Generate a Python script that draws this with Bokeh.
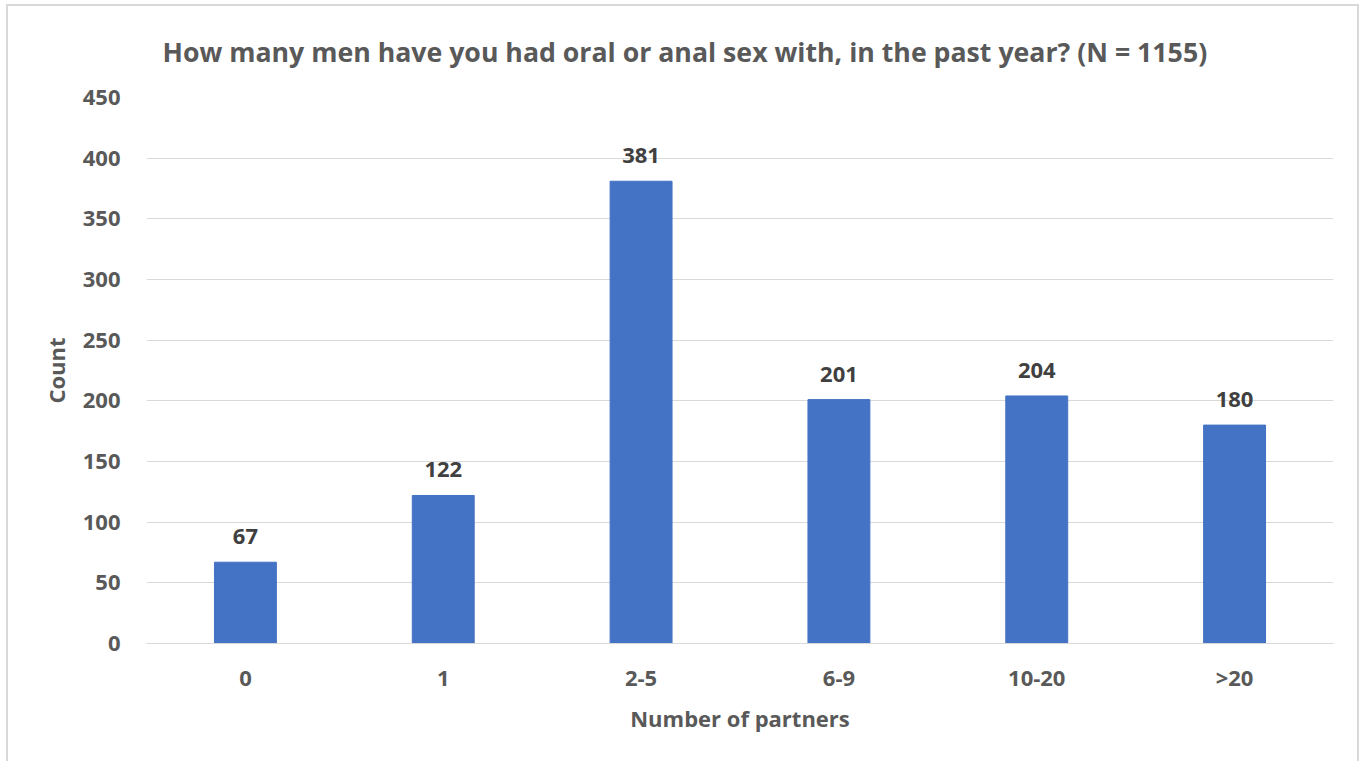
from bokeh.plotting import figure
from bokeh.models import ColumnDataSource, SingleIntervalTicker, LabelSet
from bokeh.core.properties import value
from bokeh.embed import file_html
from bokeh.resources import INLINE

categories = ["0", "1", "2-5", "6-9", "10-20", ">20"]
counts = [67, 122, 381, 201, 204, 180]
title_text = "How many men have you had oral or anal sex with, in the past year? (N = 1155)"
x_label = "Number of partners"
y_label = "Count"

FONT = "Open Sans"
src = ColumnDataSource(dict(cat=categories, val=counts, lbl=[str(v) for v in counts]))

p = figure(x_range=categories, y_range=(0, 450), width=1353, height=757,
           output_backend="svg", toolbar_location=None,
           min_border_left=138, min_border_right=28, min_border_top=91, min_border_bottom=120,
           styles={"margin-left": "6px", "margin-top": "4px",
                   "border-left": "2px solid #d9d9d9", "border-right": "2px solid #d9d9d9",
                   "border-top": "2px solid #d9d9d9"})
p.outline_line_color = None
p.vbar(x="cat", top="val", width=0.313, source=src, color="#4472C4")

labels = LabelSet(x="cat", y="val", text="lbl", source=src, text_align="center",
                  text_baseline="bottom", y_offset=18, text_font=value(FONT),
                  text_font_style="bold", text_font_size="22px", text_color="#404040")
p.add_layout(labels)

p.title.text = title_text
p.title.align = "left"
p.title.offset = 16
p.title.vertical_align = "top"
p.title.text_font = FONT
p.title.text_font_style = "bold"
p.title.text_font_size = "26.7px"
p.title.text_color = "#595959"
p.title.standoff = 51

p.yaxis.ticker = SingleIntervalTicker(interval=50)
p.ygrid.grid_line_color = "#d9d9d9"
p.xgrid.grid_line_color = None
p.yaxis.axis_line_color = None
p.yaxis.major_tick_line_color = None
p.yaxis.minor_tick_line_color = None
p.xaxis.axis_line_color = "#d9d9d9"
p.xaxis.axis_line_width = 1
p.xaxis.major_tick_line_color = None
p.xaxis.minor_tick_line_color = None
for ax in (p.xaxis, p.yaxis):
    ax.major_label_text_font = FONT
    ax.major_label_text_font_style = "bold"
    ax.major_label_text_font_size = "22px"
    ax.major_label_text_color = "#595959"
    ax.axis_label_text_font = FONT
    ax.axis_label_text_font_style = "bold"
    ax.axis_label_text_font_size = "22px"
    ax.axis_label_text_color = "#595959"
p.yaxis.major_label_standoff = 20
p.xaxis.major_label_standoff = 12
p.xaxis.axis_label = x_label
p.yaxis.axis_label = y_label
p.xaxis.axis_label_standoff = 8
p.yaxis.axis_label_standoff = 9

open("out.html", "w").write(file_html(p, INLINE))
